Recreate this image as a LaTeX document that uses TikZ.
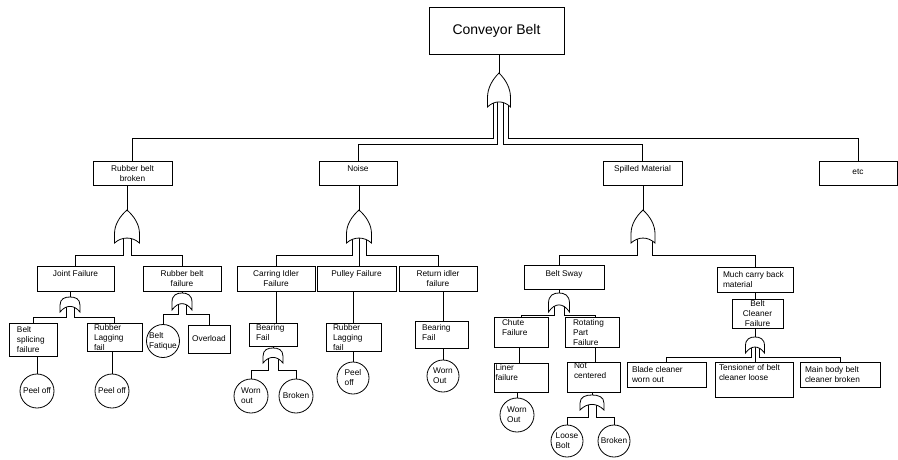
\documentclass[tikz,border=0pt]{standalone}
\usepackage{fontspec}
\setmainfont{Liberation Sans}
\usetikzlibrary{calc}
\pgfdeclarelayer{bg}
\pgfsetlayers{bg,main}
\newcommand\lind[1]{\raggedright\leftskip=#1pt\relax}
\newcommand\tbx[8]{\node[boxst] (#1) at (#2,#3) {\parbox[c][\dimexpr #5pt-#3pt\relax][t]{\dimexpr #4pt-#2pt\relax}{\vspace*{#7pt}#6#8\par}};}
\tikzset{
  ln/.style={draw=black, line width=0.8pt},
  boxst/.style={draw, line width=0.8pt, inner sep=0pt, outer sep=0pt, anchor=north west, font=\fontsize{8.3}{10}\selectfont},
  circst/.style={draw, circle, line width=0.8pt, inner sep=0pt, outer sep=0pt, align=left, font=\fontsize{8.3}{10}\selectfont},
  gatest/.style={draw, fill=white, line width=0.8pt},
  pics/orgate/.style 2 args={code={
    \draw[gatest] (0,0) .. controls ({-0.3*#1},{0.2*#2}) and ({-0.5*#1},{0.45*#2}) .. ({-0.5*#1},{0.72*#2}) -- ({-0.5*#1},{#2}) .. controls ({-0.2*#1},{0.8*#2}) and ({0.2*#1},{0.8*#2}) .. ({0.5*#1},{#2}) -- ({0.5*#1},{0.72*#2}) .. controls ({0.5*#1},{0.45*#2}) and ({0.3*#1},{0.2*#2}) .. cycle;
    \coordinate (-top) at (0,0);
    \coordinate (-bot) at (0,{0.8*#2});
  }},
  pics/domegate/.style 2 args={code={
    \draw[gatest] ({-0.5*#1},{#2}) -- ({-0.5*#1},{0.55*#2}) .. controls ({-0.5*#1},{0.1*#2}) and ({-0.25*#1},0) .. (0,0) .. controls ({0.25*#1},0) and ({0.5*#1},{0.1*#2}) .. ({0.5*#1},{0.55*#2}) -- ({0.5*#1},{#2}) .. controls ({0.2*#1},{0.5*#2}) and ({-0.2*#1},{0.5*#2}) .. cycle;
    \coordinate (-top) at (0,0);
    \coordinate (-bot) at (0,{0.65*#2});
  }},
}
\begin{document}
\begin{tikzpicture}[x=1pt,y=-1pt]
\useasboundingbox (0,0) rectangle (898,459);
% bus levels
\coordinate (yA) at (0,138);
\coordinate (yB) at (0,144);
\coordinate (yC) at (0,255);
\coordinate (yD) at (0,317);
\coordinate (yE) at (0,314);
\coordinate (yF) at (0,370);
\coordinate (yG) at (0,315);
\coordinate (yH) at (0,417);
\coordinate (yI) at (0,357);
% level 1
\tbx{cb}{429}{7}{564}{54}{\centering\fontsize{14}{16}\selectfont}{17.5}{Conveyor Belt}
% level 2
\tbx{rbb}{93}{161}{172}{185}{\centering}{4}{Rubber belt\\broken}
\tbx{noise}{319}{161}{397}{185}{\centering}{4}{Noise}
\tbx{spm}{603}{161}{682}{185}{\centering}{4}{Spilled Material}
\tbx{etc}{819}{161}{897}{185}{\centering}{8.5}{etc}
% level 3
\tbx{jf}{37}{266}{114}{291}{\centering}{4}{Joint Failure}
\tbx{rbf}{143}{266}{221}{291}{\centering}{4}{Rubber belt\\failure}
\tbx{cif}{237}{266}{315}{291}{\centering}{4}{Carring Idler\\Failure}
\tbx{pf}{317}{266}{396}{291}{\centering}{4}{Pulley Failure}
\tbx{rif}{399}{266}{477}{291}{\centering}{4}{Return idler\\failure}
\tbx{bs}{524}{265}{604}{289}{\centering}{5}{Belt Sway}
\tbx{mcb}{717}{267}{793}{292}{\lind{6}}{4}{Much carry back\\material}
% level 4
\tbx{bsf}{9}{323}{57}{356}{\lind{8}}{3}{Belt\\splicing\\failure}
\tbx{rlf1}{87}{323}{142}{351}{\lind{7}}{1}{Rubber\\Lagging\\fail}
\node[circst, minimum size=33pt] (bfa) at (163,341) {Belt\\Fatique};
\tbx{ovl}{188}{325}{230}{353}{\centering}{10}{Overload}
\tbx{bf1}{249}{323}{297}{346}{\lind{7}}{1}{Bearing\\Fail}
\tbx{rlf2}{326}{323}{381}{351}{\lind{7}}{1}{Rubber\\Lagging\\fail}
\tbx{bf2}{415}{321}{468}{348}{\lind{7}}{3}{Bearing\\Fail}
\tbx{chf}{494}{317}{548}{347}{\lind{8}}{2}{Chute\\Failure}
\tbx{rpf}{565}{317}{619}{347}{\lind{8}}{2}{Rotating\\Part\\Failure}
\tbx{bcf}{732}{299}{783}{328}{\centering}{1}{Belt\\Cleaner\\Failure}
% level 5
\tbx{lf}{494}{363}{548}{392}{\lind{1.5}}{1}{Liner\\failure}
\tbx{nc}{567}{362}{620}{392}{\lind{7}}{1}{Not\\centered}
\tbx{bcw}{627}{362}{706}{387}{\lind{5}}{4}{Blade cleaner\\worn out}
\tbx{tbc}{715}{362}{793}{397}{\lind{4}}{2.5}{Tensioner of belt\\cleaner loose}
\tbx{mbb}{800}{362}{880}{387}{\lind{5}}{4}{Main body belt\\cleaner broken}
% basic events
\node[circst, minimum size=34pt] (po1) at (37,391) {Peel off};
\node[circst, minimum size=34pt] (po2) at (112,391) {Peel off};
\node[circst, minimum size=34pt] (wo1) at (251,396) {Worn\\out};
\node[circst, minimum size=34pt] (br1) at (296,396) {Broken};
\node[circst, minimum size=32pt] (po3) at (353,378) {Peel\\off};
\node[circst, minimum size=32pt] (wo2) at (443,376) {Worn\\Out};
\node[circst, minimum size=34pt] (wo3) at (517,415) {Worn\\Out};
\node[circst, minimum size=32pt] (lb) at (567,441) {Loose\\Bolt};
\node[circst, minimum size=32pt] (br2) at (614,441) {Broken};
% gates
\pic (g0) at (499,73) {orgate={23}{34}};
\pic (g1) at (127,210) {orgate={25}{33}};
\pic (g2) at (359,210) {orgate={25}{33}};
\pic (g3) at (643,210) {orgate={24}{33}};
\pic (g4) at (70,297) {domegate={20}{15}};
\pic (g5) at (182,293) {domegate={20}{17}};
\pic (g6) at (273,348) {domegate={20}{15}};
\pic (g7) at (559,293) {domegate={21}{19}};
\pic (g8) at (592,395) {domegate={24}{15}};
\pic (g9) at (755,337) {domegate={19}{16}};
\begin{pgfonlayer}{bg}
\fill[white] (0,0) rectangle (898,459);
% top
\draw[ln] (cb.south -| g0-top) -- (g0-top);
\draw[ln] ([xshift=-6pt]g0-bot) |- (rbb.north |- yA) -- (rbb.north);
\draw[ln] ([xshift=-2pt]g0-bot) |- (noise.north |- yB) -- (noise.north);
\draw[ln] ([xshift=4pt]g0-bot) |- (spm.north |- yB) -- (spm.north);
\draw[ln] ([xshift=9pt]g0-bot) |- (etc.north |- yA) -- (etc.north);
% level 2
\draw[ln] (rbb.south -| g1-top) -- (g1-top);
\draw[ln] (noise.south -| g2-top) -- (g2-top);
\draw[ln] (spm.south -| g3-top) -- (g3-top);
\draw[ln] ([xshift=-4pt]g1-bot) |- (jf.north |- yC) -- (jf.north);
\draw[ln] ([xshift=4pt]g1-bot) |- (rbf.north |- yC) -- (rbf.north);
\draw[ln] ([xshift=-7pt]g2-bot) |- (cif.north |- yC) -- (cif.north);
\draw[ln] (g2-bot) -- (g2-bot |- pf.north);
\draw[ln] ([xshift=7pt]g2-bot) |- (rif.north |- yC) -- (rif.north);
\draw[ln] ([xshift=-6pt]g3-bot) |- ([xshift=-5pt]bs.north |- yC) -- ([xshift=-5pt]bs.north);
\draw[ln] ([xshift=9pt]g3-bot) |- (mcb.north |- yC) -- (mcb.north);
% level 3
\draw[ln] (jf.south -| g4-top) -- (g4-top);
\draw[ln] ([xshift=-4pt]g4-bot) |- (bsf.north |- yD) -- (bsf.north);
\draw[ln] ([xshift=4pt]g4-bot) |- (rlf1.north |- yD) -- (rlf1.north);
\draw[ln] (rbf.south -| g5-top) -- (g5-top);
\draw[ln] ([xshift=-4pt]g5-bot) |- (bfa.north |- yE) -- (bfa.north);
\draw[ln] ([xshift=4pt]g5-bot) |- (ovl.north |- yE) -- (ovl.north);
\draw[ln] (cif.south) -- (cif.south |- bf1.north);
\draw[ln] (bf1.south -| g6-top) -- (g6-top);
\draw[ln] ([xshift=-5pt]g6-bot) |- (wo1.north |- yF) -- (wo1.north);
\draw[ln] ([xshift=5pt]g6-bot) |- (br1.north |- yF) -- (br1.north);
\draw[ln] (rlf2.north |- pf.south) -- (rlf2.north);
\draw[ln] (rlf2.south -| po3.north) -- (po3.north);
\draw[ln] (wo2.north |- rif.south) -- (wo2.north |- bf2.north);
\draw[ln] (bf2.south -| wo2.north) -- (wo2.north);
\draw[ln] (bs.south -| g7-top) -- (g7-top);
\draw[ln] ([xshift=-5pt]g7-bot) |- (chf.north |- yG) -- (chf.north);
\draw[ln] ([xshift=5pt]g7-bot) |- ([xshift=3pt]rpf.north |- yG) -- ([xshift=3pt]rpf.north);
\draw[ln] ([xshift=-2pt]chf.south) -- ([xshift=-2pt]lf.north);
\draw[ln] (lf.south -| wo3.north) -- (wo3.north);
\draw[ln] ([xshift=3pt]rpf.south) -- ([xshift=3pt]rpf.south |- nc.north);
\draw[ln] (nc.south -| g8-top) -- (g8-top);
\draw[ln] ([xshift=-4pt]g8-bot) |- (lb.north |- yH) -- (lb.north);
\draw[ln] ([xshift=4pt]g8-bot) |- (br2.north |- yH) -- (br2.north);
\draw[ln] (mcb.south) -- (mcb.south |- bcf.north);
\draw[ln] (bcf.south -| g9-top) -- (g9-top);
\draw[ln] ([xshift=-4pt]g9-bot) |- (bcw.north |- yI) -- (bcw.north);
\draw[ln] (g9-bot) -- (g9-bot |- tbc.north);
\draw[ln] ([xshift=4pt]g9-bot) |- (mbb.north |- yI) -- (mbb.north);
% level 4
\draw[ln] (bsf.south -| po1.north) -- (po1.north);
\draw[ln] (rlf1.south -| po2.north) -- (po2.north);
\end{pgfonlayer}
\end{tikzpicture}
\end{document}
